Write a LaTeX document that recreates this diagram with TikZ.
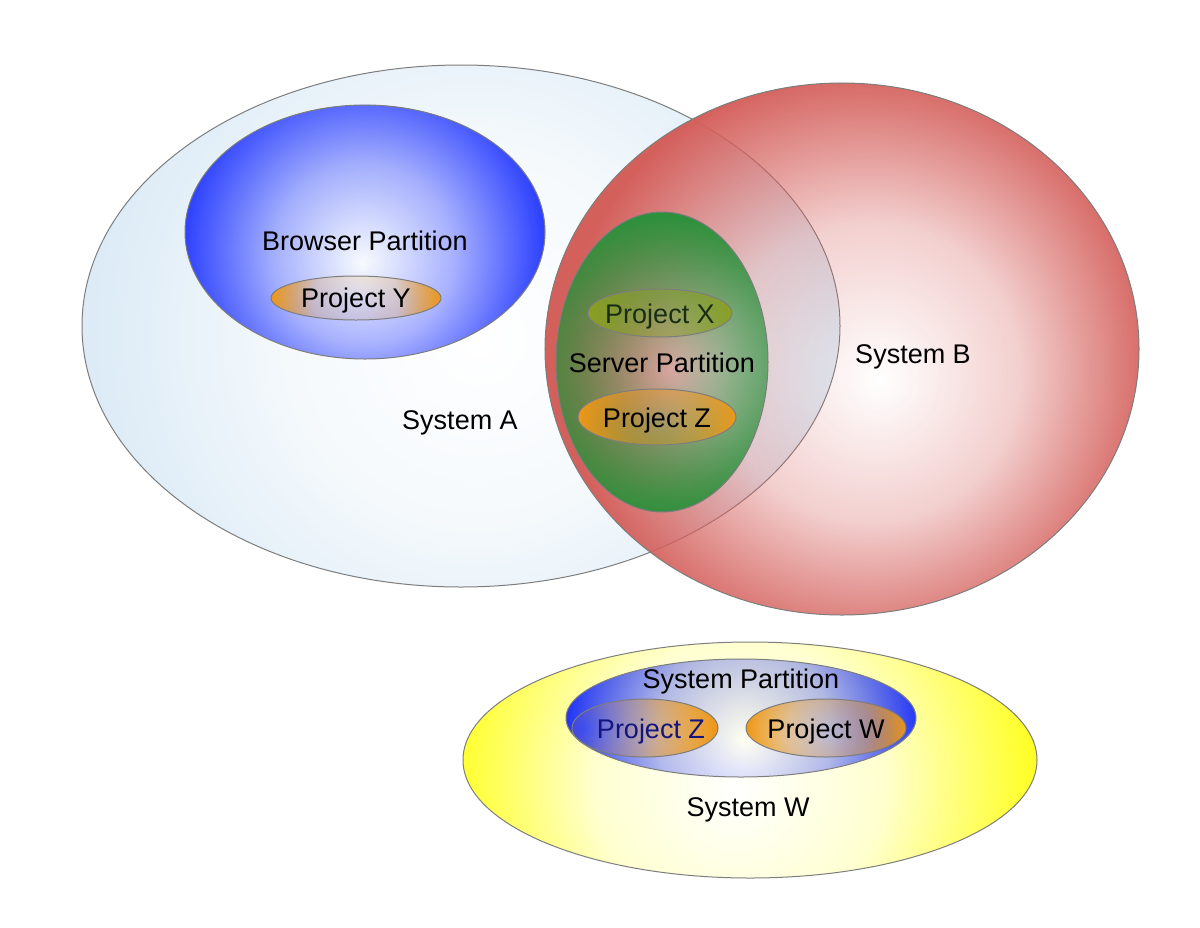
\documentclass[tikz,border=0pt]{standalone}
\usepackage{fontspec}
\setmainfont{Liberation Sans}
\usetikzlibrary{shapes.geometric,fadings}

% circular radial fadings: name, half-width of fading box (bp), half-height (bp),
% centre offset x, y (bp, 25 = gradient radius), opacity at centre, at half radius, at full radius
\newcommand\declfade[8]{%
  \pgfdeclareradialshading{#1sh}{\pgfpoint{#4bp}{#5bp}}{color(0bp)=(#6); color(12.5bp)=(#7); color(25bp)=(#8); color(50bp)=(#8)}%
  \begin{tikzfadingfrompicture}[name=#1]
    \shade[shading=#1sh] (-#2bp,-#3bp) rectangle (#2bp,#3bp);
  \end{tikzfadingfrompicture}}

\declfade{fA}{25}{36.3}{1.25}{-0.92}{black}{white!30!black}{white}
\declfade{fB}{25}{27.9}{3.2}{-2.6}{black}{white!30!black}{white}
\declfade{fBr}{25}{35.4}{-0.4}{-4.2}{black}{white!40!black}{white}
\declfade{fY}{25}{96.6}{0}{-0.6}{white!6!black}{white!22!black}{white}
\declfade{fS}{35.4}{25}{1.3}{-1.3}{white!6!black}{white!55!black}{white}
\declfade{fX}{25}{75}{1}{-1.7}{white!25!black}{white!55!black}{white}
\declfade{fZ}{25}{70.5}{0.95}{-0.9}{white!15!black}{white!50!black}{white}
\declfade{fW}{25}{60.8}{-1.3}{-2.6}{black}{white!22!black}{white}
\declfade{fP}{25}{74.2}{0.57}{-3.1}{black}{white!35!black}{white}
\declfade{fZb}{34.2}{86.2}{-15}{0}{black}{white!35!black}{white}
\declfade{fWb}{25}{69}{0.6}{-0.9}{white!8!black}{white!40!black}{white}

\definecolor{cA}{RGB}{220,235,246}
\definecolor{cB}{RGB}{212,96,92}
\definecolor{cBlue}{RGB}{45,65,255}
\definecolor{cOrange}{RGB}{238,152,25}
\definecolor{cGreen}{RGB}{45,145,60}
\definecolor{cOlive}{RGB}{138,160,35}
\definecolor{cYellow}{RGB}{255,255,40}
\definecolor{cBlue2}{RGB}{35,55,250}
\definecolor{bordergray}{RGB}{125,125,125}
\definecolor{txtgreen}{RGB}{25,45,20}
\definecolor{txtblue}{RGB}{20,20,125}

\begin{document}
\begin{tikzpicture}[x=0.5pt,y=-0.5pt,
  blob/.style={ellipse, inner sep=0pt, outer sep=0pt, draw=bordergray, line width=0.5pt},
  sz/.style 2 args={minimum width=#1*1pt, minimum height=#2*1pt},
  paint/.style 2 args={preaction={fill=#1, path fading=#2}},
  lbl/.style={font=\fontsize{13.5}{16}\selectfont, anchor=base, inner sep=0pt}]
\useasboundingbox (0,0) rectangle (1200,927);

% System A and B
\node[blob, sz={379}{261}, paint={cA}{fA}] (sysA) at (461,326) {};
\node[blob, sz={297}{266}, paint={cB}{fB}] (sysB) at (842,349) {};

% Browser partition
\node[blob, sz={180}{127}, paint={cBlue}{fBr}] (browser) at (365,232) {};
\node[blob, sz={85}{22}, paint={cOrange}{fY}] (projY) at (356,298) {};

% Server partition
\node[blob, sz={106}{150}, paint={cGreen}{fS}] (server) at (662,362) {};
\node[blob, sz={72}{24}, paint={cOlive}{fX}] (projX) at (660,313) {};
\node[blob, sz={79}{28}, paint={cOrange}{fZ}] (projZ) at (657,417) {};

% System W
\node[blob, sz={287}{118}, paint={cYellow}{fW}] (sysW) at (750,760) {};
\node[blob, sz={175}{59}, paint={cBlue2}{fP}] (syspart) at (741,718) {};
\node[blob, sz={73}{29}, paint={cOrange}{fZb}] (projZb) at (645,728) {};
\node[blob, sz={80}{29}, paint={cOrange}{fWb}] (projW) at (826,728) {};

% Labels
\node[lbl] (tBrowser) at (365,250) {Browser Partition};
\node[lbl] (tY) at (356,307) {Project Y};
\node[lbl] (tA) at (460,429) {System A};
\node[lbl] (tB) at (913,363) {System B};
\node[lbl, text=txtgreen] (tX) at (660,323) {Project X};
\node[lbl] (tServer) at (662,372) {Server Partition};
\node[lbl] (tZ) at (657,427) {Project Z};
\node[lbl] (tSysPart) at (741,688) {System Partition};
\node[lbl, text=txtblue] (tZb) at (651,738) {Project Z};
\node[lbl] (tW) at (826,738) {Project W};
\node[lbl] (tSysW) at (748,816) {System W};
\end{tikzpicture}
\end{document}
